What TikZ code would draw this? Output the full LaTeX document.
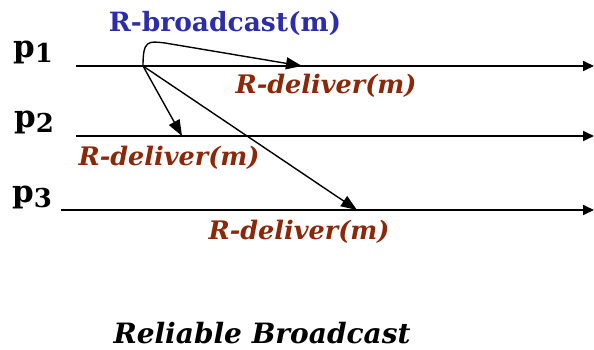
\documentclass[tikz,border=0pt]{standalone}
\usepackage{fontspec}
\setmainfont{DejaVu Serif}
\usetikzlibrary{arrows.meta}
\definecolor{bcblue}{RGB}{45,45,170}
\definecolor{delred}{RGB}{140,40,10}
\tikzset{
  timeline/.style={line width=1.7pt,-{Triangle[length=11pt,width=10pt]}},
  msg/.style={line width=1.4pt,-{Triangle[length=16pt,width=12pt]}},
  proc/.style={font=\bfseries\fontsize{31}{34}\selectfont,inner sep=0pt,anchor=center},
  deliv/.style={font=\bfseries\itshape\fontsize{25.5}{28}\selectfont,text=delred,inner sep=0pt},
  bcast/.style={font=\bfseries\fontsize{26.5}{29}\selectfont,text=bcblue,inner sep=0pt},
  ttl/.style={font=\bfseries\itshape\fontsize{28}{31}\selectfont,inner sep=0pt}
}
\newcommand{\procname}[1]{p\raisebox{-0.35ex}{\fontsize{26}{28}\selectfont #1}}
\begin{document}
\begin{tikzpicture}[x=1pt,y=-1pt]
\useasboundingbox (0,0) rectangle (594,350);
% timelines
\coordinate (p1s) at (76,66);  \coordinate (p1e) at (594,66);
\coordinate (p2s) at (76,136); \coordinate (p2e) at (594,136);
\coordinate (p3s) at (61,210); \coordinate (p3e) at (594,210);
\draw[timeline] (p1s) -- (p1e);
\draw[timeline] (p2s) -- (p2e);
\draw[timeline] (p3s) -- (p3e);
% process labels
\node[proc] (l1) at (33,52) {\procname{1}};
\node[proc] (l2) at (34,122) {\procname{2}};
\node[proc] (l3) at (32,197) {\procname{3}};
% messages
\coordinate (s) at (143,66);
\coordinate (d1) at (302,66);
\coordinate (d2) at (182,136);
\coordinate (d3) at (357,210);
\draw[msg] (s) .. controls (143,40) and (148,41) .. (165,43) -- (d1);
\draw[msg] (s) -- (d2);
\draw[msg] (s) -- (d3);
% texts
\node[bcast] (rb) at (225,23) {R-broadcast(m)};
\node[deliv] (rd1) at (326,86) {R-deliver(m)};
\node[deliv] (rd2) at (169,158) {R-deliver(m)};
\node[deliv] (rd3) at (299,232) {R-deliver(m)};
\node[ttl] (title) at (262,333) {Reliable Broadcast};
\end{tikzpicture}
\end{document}
